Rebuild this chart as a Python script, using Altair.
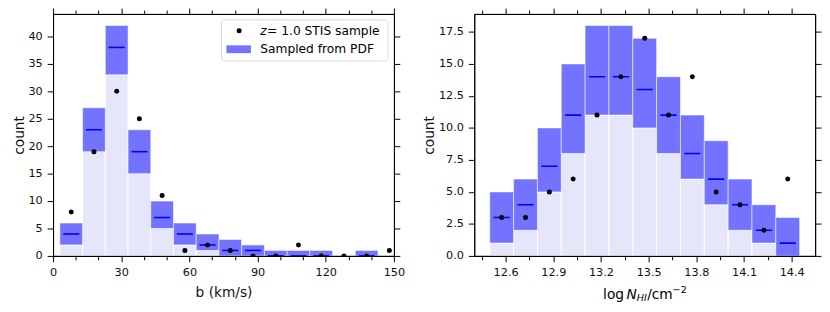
import altair as alt
import pandas as pd

# ---------------- data ----------------
# left panel: Doppler parameter b (km/s), bins of width 10
b_lo = [3, 13, 23, 33, 43, 53, 63, 73, 83, 93, 103, 113, 123, 133, 143]
b_hi = [13, 23, 33, 43, 53, 63, 73, 83, 93, 103, 113, 123, 133, 143, 153]
b_center = [8, 18, 28, 38, 48, 58, 68, 78, 88, 98, 108, 118, 128, 138, 148]
b_low = [2, 19, 33, 15, 5, 2, 1, 0, 0, 0, 0, 0, 0, 0, 0]
b_high = [6, 27, 42, 23, 10, 6, 4, 3, 2, 1, 1, 1, 0, 1, 0]
b_median = [4, 23, 38, 19, 7, 4, 2, 1, 1, 0, 0, 0, 0, 0, 0]
b_obs = [8, 19, 30, 25, 11, 1, 2, 1, 0, 0, 2, 0, 0, 0, 1]

# right panel: log N_HI, bins of width 0.15
n_lo = [12.5, 12.65, 12.8, 12.95, 13.1, 13.25, 13.4, 13.55, 13.7, 13.85, 14.0, 14.15, 14.3]
n_hi = [12.65, 12.8, 12.95, 13.1, 13.25, 13.4, 13.55, 13.7, 13.85, 14.0, 14.15, 14.3, 14.45]
n_center = [12.575, 12.725, 12.875, 13.025, 13.175, 13.325, 13.475, 13.625, 13.775,
            13.925, 14.075, 14.225, 14.375]
n_low = [1, 2, 5, 8, 11, 11, 10, 8, 6, 4, 2, 1, 0]
n_high = [5, 6, 10, 15, 18, 18, 17, 14, 11, 9, 6, 4, 3]
n_median = [3, 4, 7, 11, 14, 14, 13, 11, 8, 6, 4, 2, 1]
n_obs = [3, 3, 5, 6, 11, 14, 17, 11, 14, 5, 4, 2, 6]

b_major = [0, 30, 60, 90, 120, 150]
b_minor = [10, 20, 40, 50, 70, 80, 100, 110, 130, 140]
b_yticks = [0, 5, 10, 15, 20, 25, 30, 35, 40]
n_major = [12.6, 12.9, 13.2, 13.5, 13.8, 14.1, 14.4]
n_minor = [12.45, 12.75, 13.05, 13.35, 13.65, 13.95, 14.25]
n_yticks = [0, 2.5, 5, 7.5, 10, 12.5, 15, 17.5]

legend_obs = "= 1.0 STIS sample"
legend_pdf = "Sampled from PDF"

FONT = "DejaVu Sans"
W, H = 348, 247
LIGHT = "#e6e6fa"
BOX = "#7373ff"
MED = "#0000ff"


def frame(lo, hi, center, low, high, median, obs):
    return pd.DataFrame({"lo": lo, "hi": hi, "center": center, "low": low,
                         "high": high, "median": median, "obs": obs,
                         "zero": [0] * len(lo)})


def panel(df, xdom, major, minor, xfmt, xtitle, ydom, yticks, yfmt, extra):
    xs = alt.Scale(domain=xdom, nice=False, zero=False)
    ys = alt.Scale(domain=ydom, nice=False, zero=True)
    base = alt.Chart(df)
    light = base.transform_filter("datum.low > 0").mark_rect(
        color=LIGHT, stroke="white", strokeWidth=1, clip=True
    ).encode(
        x=alt.X("lo:Q", scale=xs, axis=alt.Axis(
            orient="bottom", values=major, format=xfmt, tickSize=6,
            title=xtitle, titlePadding=8, zindex=1)),
        x2="hi:Q",
        y=alt.Y("low:Q", scale=ys, axis=alt.Axis(
            orient="left", values=yticks, format=yfmt, tickSize=6,
            title="count", titlePadding=2, zindex=1)),
        y2="zero:Q",
    )
    box = base.transform_filter("datum.high > datum.low").mark_rect(
        color=BOX, stroke="white", strokeOpacity=0.55, strokeWidth=1, clip=True
    ).encode(
        x=alt.X("lo:Q", scale=xs, axis=alt.Axis(
            orient="bottom", values=minor, labels=False, tickSize=4,
            title=None, zindex=1)),
        x2="hi:Q",
        y=alt.Y("high:Q", scale=ys, axis=alt.Axis(
            orient="right", values=yticks, labels=False, tickSize=6,
            title=None, zindex=1)),
        y2="low:Q",
    )
    med = base.transform_filter("datum.high > 0").mark_tick(
        orient="horizontal", size=16.5, thickness=1.6, color=MED, opacity=1, clip=True
    ).encode(
        x=alt.X("center:Q", scale=xs, axis=alt.Axis(
            orient="top", values=major, labels=False, tickSize=6,
            title=None, zindex=1)),
        y=alt.Y("median:Q", scale=ys, axis=None),
    )
    dots = base.mark_circle(size=26, color="black", opacity=1, clip=True).encode(
        x=alt.X("center:Q", scale=xs, axis=alt.Axis(
            orient="top", values=minor, labels=False, tickSize=4,
            title=None, zindex=1)),
        y=alt.Y("obs:Q", scale=ys, axis=None),
    )
    return alt.layer(light, box, med, dots, *extra).resolve_axis(
        x="independent", y="independent"
    ).properties(width=W, height=H)


one = alt.Chart(pd.DataFrame({"k": [0]}))

legend_layers = [
    one.mark_rect(fill="white", stroke="#d4d4d4", strokeWidth=1, cornerRadius=3,
                  opacity=0.85).encode(
        x=alt.value(172), x2=alt.value(342), y=alt.value(6), y2=alt.value(48)),
    one.mark_circle(size=26, color="black", opacity=1).encode(
        x=alt.value(190), y=alt.value(17)),
    one.mark_text(text="z", font=FONT, fontSize=12.5, fontStyle="italic",
                  align="left", baseline="middle").encode(
        x=alt.value(211.5), y=alt.value(17)),
    one.mark_text(text=legend_obs, font=FONT, fontSize=12.5,
                  align="left", baseline="middle").encode(
        x=alt.value(218.5), y=alt.value(17)),
    one.mark_rect(fill=BOX).encode(
        x=alt.value(177), x2=alt.value(202), y=alt.value(32), y2=alt.value(40)),
    one.mark_text(text=legend_pdf, font=FONT, fontSize=12.5,
                  align="left", baseline="middle").encode(
        x=alt.value(211.5), y=alt.value(36)),
]

TY = H + 40
title_layers = [
    one.mark_text(text="log", font=FONT, fontSize=14, align="left",
                  baseline="middle").encode(x=alt.value(131.5), y=alt.value(TY)),
    one.mark_text(text="N", font=FONT, fontSize=14, fontStyle="italic", align="left",
                  baseline="middle").encode(x=alt.value(155.5), y=alt.value(TY)),
    one.mark_text(text="HI", font=FONT, fontSize=9.8, fontStyle="italic", align="left",
                  baseline="middle").encode(x=alt.value(166), y=alt.value(TY + 3)),
    one.mark_text(text="/cm", font=FONT, fontSize=14, align="left",
                  baseline="middle").encode(x=alt.value(176.5), y=alt.value(TY)),
    one.mark_text(text="\u22122", font=FONT, fontSize=9.8, align="left",
                  baseline="middle").encode(x=alt.value(202.5), y=alt.value(TY - 5)),
]

left = panel(frame(b_lo, b_hi, b_center, b_low, b_high, b_median, b_obs),
             [0, 150], b_major, b_minor, "d", "b (km/s)",
             [0, 44.1], b_yticks, "d", legend_layers)
right = panel(frame(n_lo, n_hi, n_center, n_low, n_high, n_median, n_obs),
              [12.4025, 14.5475], n_major, n_minor, ".1f", " ",
              [0, 18.9], n_yticks, ".1f", title_layers)

chart = alt.hconcat(left, right, spacing=16).properties(
    padding={"left": 3, "top": -4, "right": 0, "bottom": -2}
).configure_view(stroke="black", strokeWidth=1).configure_axis(
    labelFont=FONT, titleFont=FONT, labelFontSize=11.5, titleFontSize=14,
    titleFontWeight="normal", labelColor="#111", titleColor="#111",
    tickColor="black", domainColor="black", domainWidth=1, tickWidth=1,
    grid=False, labelPadding=5, labelFlush=False,
)

chart.save("out.html", embed_options={"renderer": "svg", "actions": False})
